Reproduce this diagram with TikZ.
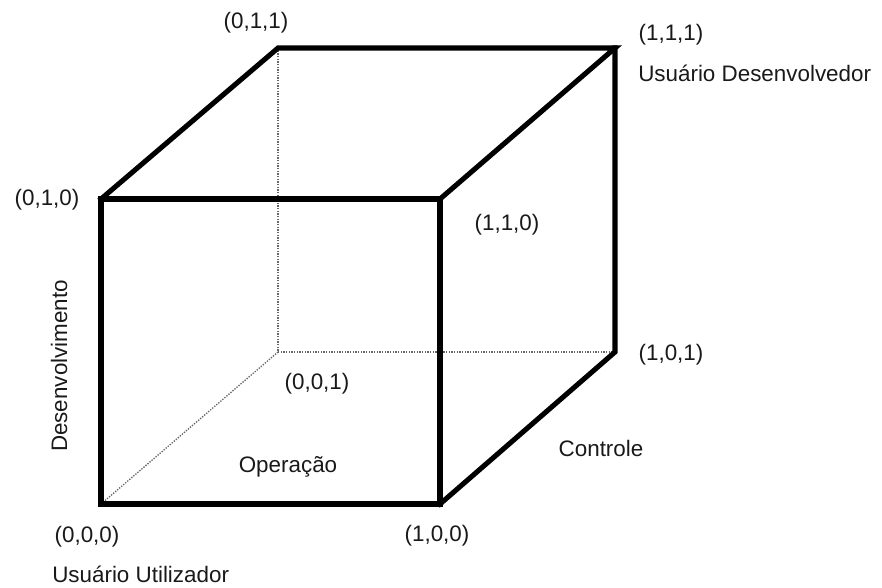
\documentclass[tikz,border=0pt]{standalone}
\usepackage{fontspec}
\setmainfont{Liberation Sans}
\usepackage{xcolor}
\usepackage{tikz}
\usetikzlibrary{positioning}

\tikzset{
  edge/.style={line width=3.8pt, line join=miter, line cap=rect},
  hidden/.style={line width=1pt, densely dotted, black!60},
  lbl/.style={inner sep=0pt, font=\fontsize{16.8pt}{18pt}\selectfont, text=black!90}
}

\begin{document}
\begin{tikzpicture}
\begin{scope}[x=0.75pt, y=-0.75pt]
\useasboundingbox (0,0) rectangle (882,587);
% Corners of the cube
\coordinate (c000) at (101,504);
\coordinate (c100) at (440,504);
\coordinate (c110) at (440,199);
\coordinate (c010) at (101,199);
\coordinate (c001) at (278,352);
\coordinate (c101) at (615,352);
\coordinate (c111) at (615,48);
\coordinate (c011) at (278,48);
% Hidden edges
\draw[hidden] (c011) -- (c001) -- (c101);
\draw[hidden] (c001) -- (c000);
% Visible edges
\draw[edge] (c000) -- (c100) -- (c110) -- (c010) -- cycle;
\draw[edge] (c010) -- (c011) -- (c111) -- (c110);
\draw[edge] (c111) -- (c101) -- (c100);
% Corner labels
\foreach \name/\txt/\x/\y in {
  011/{0,1,1}/256/23,
  111/{1,1,1}/671/35,
  010/{0,1,0}/47/200,
  110/{1,1,0}/507/225,
  101/{1,0,1}/671/355,
  001/{0,0,1}/317/384,
  000/{0,0,0}/87/537,
  100/{1,0,0}/437/536
}{
  \node[lbl] (l\name) at (\x,\y) {(\txt)};
}
% Axis and user labels
\node[lbl, anchor=west] (devuser) at (638,73) {Usuário Desenvolvedor};
\node[lbl, anchor=west] (enduser) at (52,574) {Usuário Utilizador};
\node[lbl] (oper) at (288,467) {Operação};
\node[lbl] (ctrl) at (601,448) {Controle};
\node[lbl, rotate=90] (devel) at (59,366) {Desenvolvimento};
\end{scope}
\end{tikzpicture}
\end{document}
